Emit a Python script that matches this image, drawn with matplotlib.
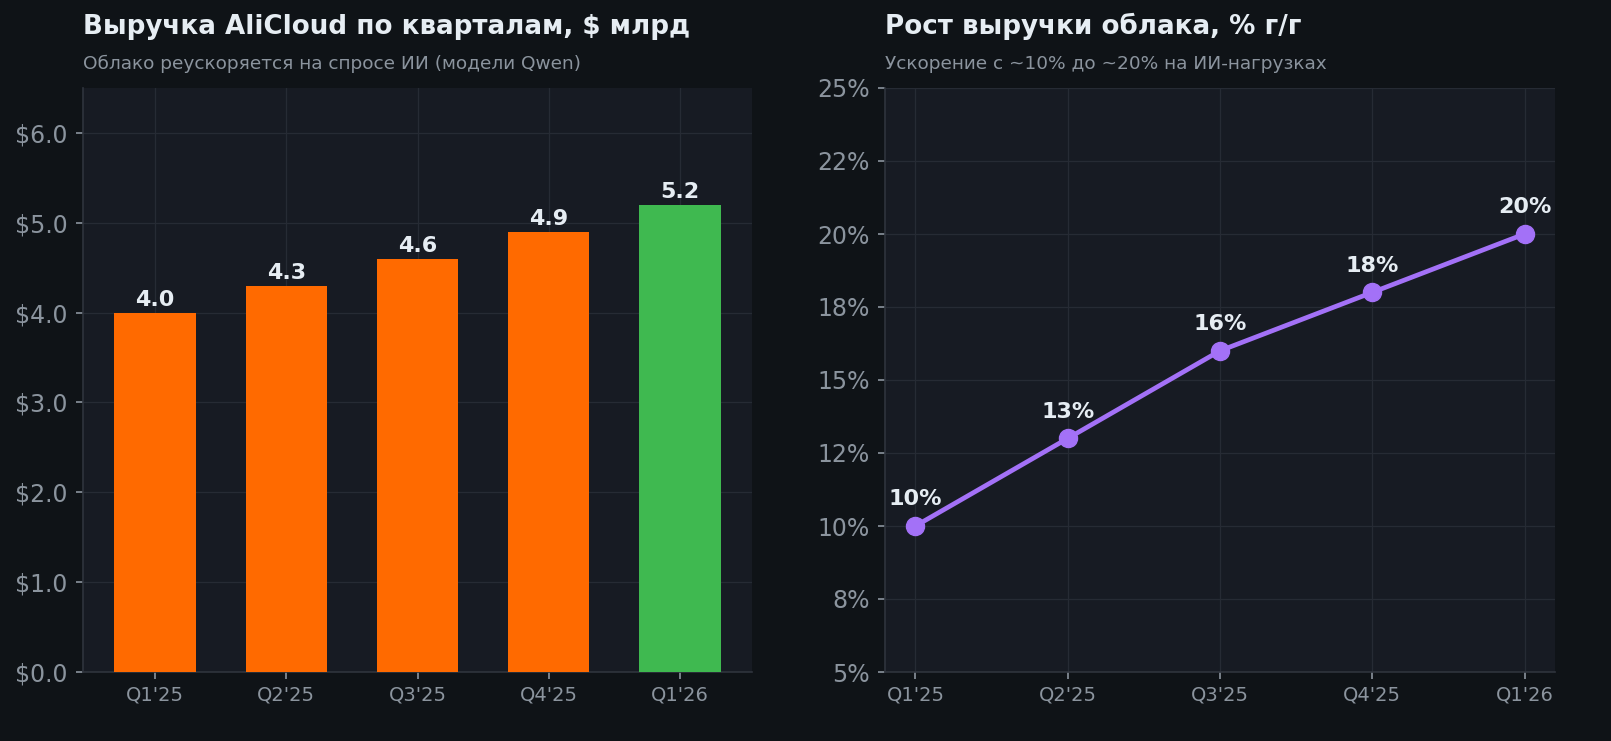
import matplotlib
matplotlib.use("Agg")
import matplotlib.pyplot as plt
from matplotlib.ticker import FuncFormatter, MultipleLocator

# ---- data ----
quarters = ["Q1'25", "Q2'25", "Q3'25", "Q4'25", "Q1'26"]
revenue = [4.0, 4.3, 4.6, 4.9, 5.2]
growth = [10, 13, 16, 18, 20]

title_left = "Выручка AliCloud по кварталам, $ млрд"
sub_left = "Облако реускоряется на спросе ИИ (модели Qwen)"
title_right = "Рост выручки облака, % г/г"
sub_right = "Ускорение с ~10% до ~20% на ИИ-нагрузках"

# ---- style ----
FIG_BG = "#0f1317"
AX_BG = "#171b23"
GRID = "#262b34"
SPINE = "#2f343d"
TEXT = "#e6edf3"
MUTED = "#8b949e"
ORANGE = "#ff6a00"
GREEN = "#3fb950"
PURPLE = "#a371f7"

plt.rcParams['font.family'] = ['DejaVu Sans']

W, H = 1611, 741
fig = plt.figure(figsize=(W / 100, H / 100), dpi=100, facecolor=FIG_BG)

def px_axes(x0, x1, y0, y1):
    return fig.add_axes([x0 / W, 1 - y1 / H, (x1 - x0) / W, (y1 - y0) / H])

ax1 = px_axes(83, 752, 88, 672)
ax2 = px_axes(885, 1555, 88, 672)

def style(ax):
    ax.set_facecolor(AX_BG)
    for s in ["top", "right"]:
        ax.spines[s].set_visible(False)
    for s in ["left", "bottom"]:
        ax.spines[s].set_color(SPINE)
        ax.spines[s].set_linewidth(1.2)
    ax.grid(True, color=GRID, linewidth=0.9)
    ax.set_axisbelow(True)
    ax.tick_params(axis='y', colors=MUTED, labelsize=17, length=5, width=1.2, pad=6)
    ax.tick_params(axis='x', colors=MUTED, labelsize=14, length=5, width=1.2, pad=5)

# ---- left: bars ----
style(ax1)
x = list(range(len(quarters)))
colors = [ORANGE] * (len(quarters) - 1) + [GREEN]
ax1.bar(x, revenue, width=0.62, color=colors, zorder=3)
ax1.set_xlim(-0.55, 4.55)
ax1.set_ylim(0, 6.5)
ax1.yaxis.set_major_locator(MultipleLocator(1.0))
ax1.yaxis.set_major_formatter(FuncFormatter(lambda v, p: f"${v:.1f}"))
ax1.set_xticks(x)
ax1.set_xticklabels(quarters)
for xi, v in zip(x, revenue):
    ax1.annotate(f"{v:.1f}", (xi, v), xytext=(0, 5), textcoords="offset points",
                 ha="center", va="baseline", color=TEXT, fontsize=16,
                 fontweight="bold", zorder=4)

# ---- right: line ----
style(ax2)
ax2.plot(x, growth, color=PURPLE, linewidth=3.4, marker="o", markersize=13,
         zorder=3)
ax2.set_xlim(-0.2, 4.2)
ax2.set_ylim(5, 25)
ax2.yaxis.set_major_locator(MultipleLocator(2.5))
ax2.yaxis.set_major_formatter(FuncFormatter(lambda v, p: f"{v:.0f}%"))
ax2.set_xticks(x)
ax2.set_xticklabels(quarters)
for xi, v in zip(x, growth):
    ax2.annotate(f"{v:.0f}%", (xi, v), xytext=(0, 15), textcoords="offset points",
                 ha="center", va="baseline", color=TEXT, fontsize=16,
                 fontweight="bold", zorder=4)

# ---- titles ----
for ax, t, s in [(ax1, title_left, sub_left), (ax2, title_right, sub_right)]:
    ax.text(0, 1 + 54 / 584, t, transform=ax.transAxes, ha="left", va="baseline",
            color=TEXT, fontsize=18.8, fontweight="bold")
    ax.text(0, 1 + 19 / 584, s, transform=ax.transAxes, ha="left", va="baseline",
            color=MUTED, fontsize=13.3)

fig.savefig("out.png", dpi=100, facecolor=FIG_BG)
